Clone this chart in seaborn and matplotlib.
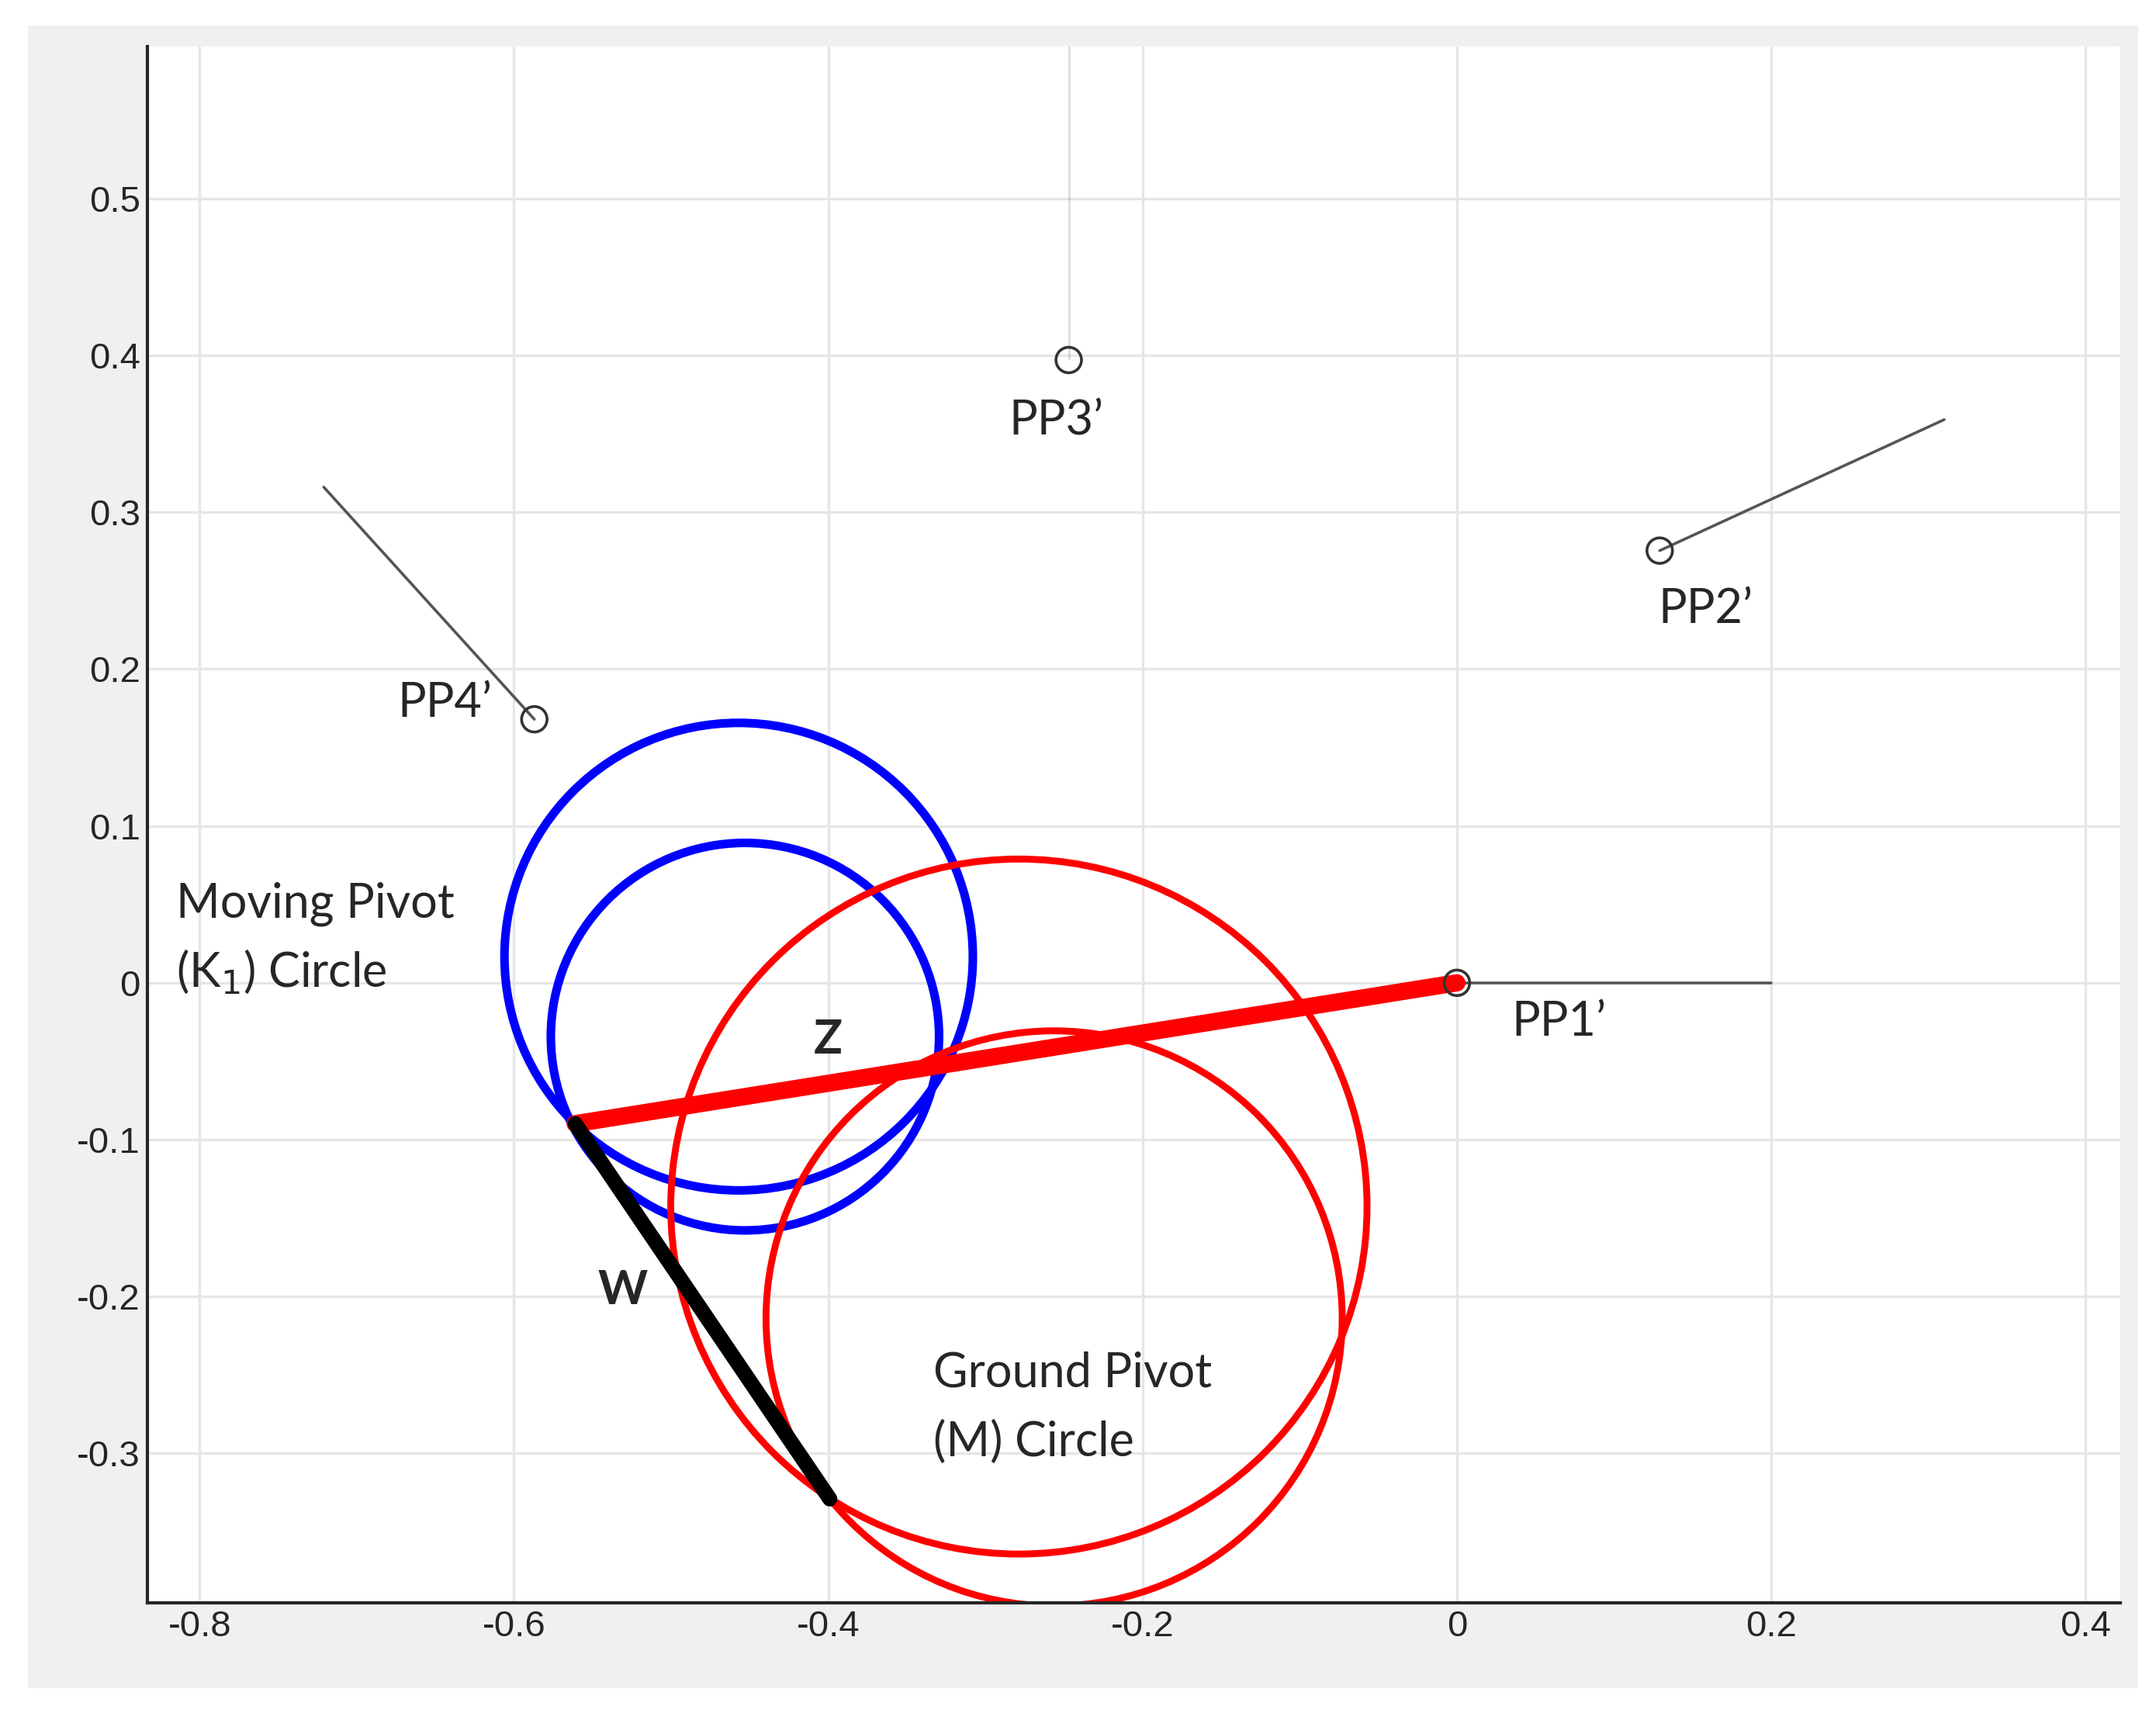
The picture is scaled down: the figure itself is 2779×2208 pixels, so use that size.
import matplotlib
matplotlib.use("Agg")
import matplotlib.pyplot as plt
from matplotlib.patches import Circle, Rectangle
import seaborn as sns
import pandas as pd

# precision points and their direction lines
pp_names = ["PP1\u2019", "PP2\u2019", "PP3\u2019", "PP4\u2019"]
pp_x = [0.0, 0.129, -0.247, -0.587]
pp_y = [0.0, 0.2755, 0.397, 0.168]
dir_x = [0.2, 0.310, -0.247, -0.721]
dir_y = [0.0, 0.359, 0.62, 0.316]
label_x = [0.065, 0.158, -0.255, -0.644]
label_y = [-0.025, 0.238, 0.358, 0.178]

# dyad vectors
z_x = [0.0, -0.561]
z_y = [0.0, -0.0898]
w_x = [-0.561, -0.399]
w_y = [-0.0898, -0.329]

# circles: centre x, centre y, radius
blue_cx = [-0.457, -0.453]
blue_cy = [0.0167, -0.0343]
blue_r = [0.149, 0.1235]
red_cx = [-0.2787, -0.2563]
red_cy = [-0.1426, -0.2139]
red_r = [0.2215, 0.1833]

sns.set_style("whitegrid")
plt.rcParams["font.family"] = ["Liberation Sans", "DejaVu Sans"]

fig = plt.figure(figsize=(13.895, 11.04), dpi=200, facecolor="white")
fig.patches.append(Rectangle((0.0128, 0.0145), 0.979, 0.9705, transform=fig.transFigure,
                             facecolor="#f0f0f0", edgecolor="none", zorder=-10))
ax = fig.add_axes([0.0685, 0.0645, 0.9149, 0.9085])
ax.set_facecolor("white")

for i in range(4):
    seg = pd.DataFrame({"x": [pp_x[i], dir_x[i]], "y": [pp_y[i], dir_y[i]]})
    sns.lineplot(data=seg, x="x", y="y", sort=False, color="#555555", lw=1.3, ax=ax)
ax.scatter(pp_x, pp_y, s=140, facecolors="none", edgecolors="#333333", lw=1.3, zorder=5)
for i in range(4):
    ax.text(label_x[i], label_y[i], pp_names[i], ha="center", va="center",
            fontsize=22, family=["Lato", "DejaVu Sans"])

for cx, cy, r in zip(blue_cx, blue_cy, blue_r):
    ax.add_patch(Circle((cx, cy), r, fill=False, color="#0000ff", lw=4))
for cx, cy, r in zip(red_cx, red_cy, red_r):
    ax.add_patch(Circle((cx, cy), r, fill=False, color="#ff0000", lw=3.2))

sns.lineplot(x=z_x, y=z_y, sort=False, color="#ff0000", lw=8, ax=ax)
sns.lineplot(x=w_x, y=w_y, sort=False, color="black", lw=7, ax=ax)

ax.text(-0.4, -0.036, "Z", fontsize=22, fontweight="bold", ha="center", va="center",
        family=["Lato", "DejaVu Sans"])
ax.text(-0.531, -0.196, "W", fontsize=22, fontweight="bold", ha="center", va="center",
        family=["Lato", "DejaVu Sans"])
ax.text(-0.815, 0.05, "Moving Pivot", fontsize=22, va="center", family=["Lato", "DejaVu Sans"])
ax.text(-0.815, 0.007, "(K$_1$) Circle", fontsize=22, va="center", family=["Lato", "DejaVu Sans"])
ax.text(-0.333, -0.249, "Ground Pivot", fontsize=22, va="center", family=["Lato", "DejaVu Sans"])
ax.text(-0.333, -0.293, "(M) Circle", fontsize=22, va="center", family=["Lato", "DejaVu Sans"])

ax.set_xlim(-0.833, 0.422)
ax.set_ylim(-0.395, 0.597)
ax.set_xticks([-0.8, -0.6, -0.4, -0.2, 0, 0.2, 0.4])
ax.set_xticklabels(["-0.8", "-0.6", "-0.4", "-0.2", "0", "0.2", "0.4"])
ax.set_yticks([-0.3, -0.2, -0.1, 0, 0.1, 0.2, 0.3, 0.4, 0.5])
ax.set_yticklabels(["-0.3", "-0.2", "-0.1", "0", "0.1", "0.2", "0.3", "0.4", "0.5"])
ax.set_xlabel("")
ax.set_ylabel("")
ax.tick_params(labelsize=17, colors="#262626", length=6, direction="in")
ax.grid(color="#e6e6e6", lw=1.2)
for s in ["top", "right"]:
    ax.spines[s].set_visible(False)
for s in ["left", "bottom"]:
    ax.spines[s].set_color("#262626")
    ax.spines[s].set_linewidth(1.5)

fig.savefig("out.png", dpi=200, facecolor="white")
